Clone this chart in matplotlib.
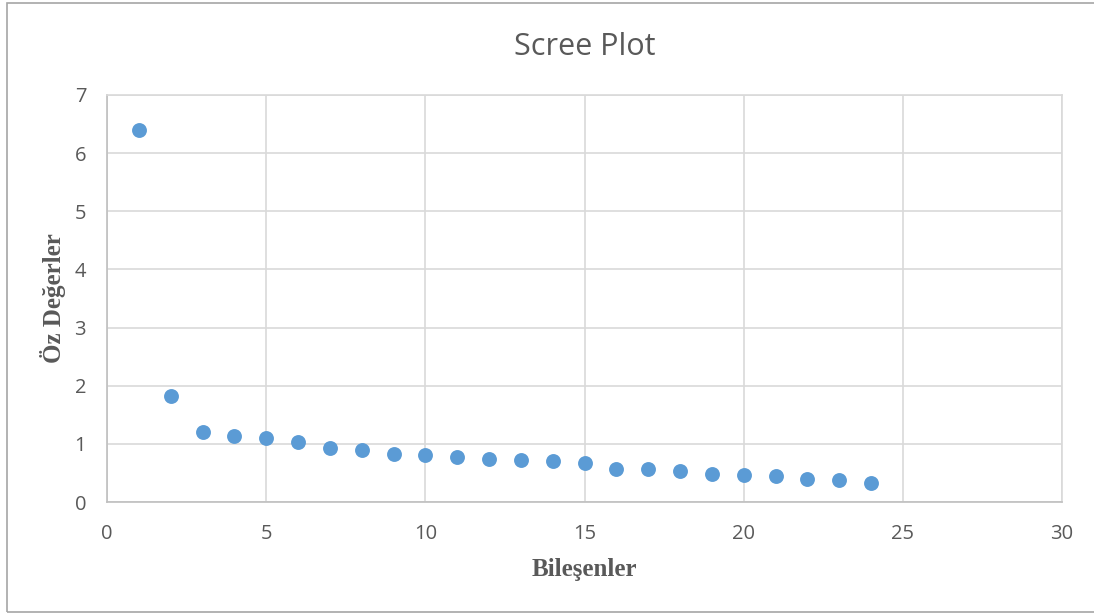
import matplotlib.pyplot as plt
from matplotlib.patches import Rectangle

plt.rcParams['font.family'] = ['Open Sans', 'DejaVu Sans']

# eigenvalues
components = list(range(1, 25))
eigenvalues = [6.40, 1.83, 1.20, 1.13, 1.10, 1.03, 0.93, 0.90, 0.82, 0.81,
               0.77, 0.74, 0.72, 0.71, 0.67, 0.57, 0.56, 0.54, 0.49, 0.47,
               0.45, 0.40, 0.38, 0.33]

x_ticks = [0, 5, 10, 15, 20, 25, 30]
y_ticks = [0, 1, 2, 3, 4, 5, 6, 7]

TEXT_GREY = '#595959'
GRID_GREY = '#d9d9d9'

fig = plt.figure(figsize=(10.94, 6.13), dpi=100)
ax = fig.add_axes([107 / 1094, 1 - 502 / 613, (1062 - 107) / 1094, (502 - 95) / 613])

ax.scatter(components, eigenvalues, s=115, color='#5b9bd5', zorder=3, linewidths=0)

ax.set_xlim(0, 30)
ax.set_ylim(0, 7)
ax.set_xticks(x_ticks)
ax.set_yticks(y_ticks)
ax.grid(True, color=GRID_GREY, linewidth=1.2)
ax.set_axisbelow(True)
for side in ['top', 'right']:
    ax.spines[side].set_color(GRID_GREY)
    ax.spines[side].set_linewidth(1.2)
for side in ['left', 'bottom']:
    ax.spines[side].set_color('#bfbfbf')
    ax.spines[side].set_linewidth(1.2)
ax.tick_params(length=0, labelsize=14.5, colors=TEXT_GREY)
ax.tick_params(axis='x', pad=16)
ax.tick_params(axis='y', pad=15)

ax.set_xlabel('Bileşenler', family='Liberation Serif', fontweight='bold',
              fontsize=18, color=TEXT_GREY, labelpad=10)
ax.set_ylabel('Öz Değerler', family='Liberation Serif', fontweight='bold',
              fontsize=18, color=TEXT_GREY, labelpad=6)
ax.set_title('Scree Plot', fontsize=22, color=TEXT_GREY, pad=29)

# outer chart border
fig.patches.append(Rectangle((7 / 1094, 1 / 613), 1.2, 1 - 4 / 613,
                             transform=fig.transFigure, fill=False,
                             edgecolor='#a6a6a6', linewidth=1.2))

fig.savefig('out.png', dpi=100, facecolor='white')
